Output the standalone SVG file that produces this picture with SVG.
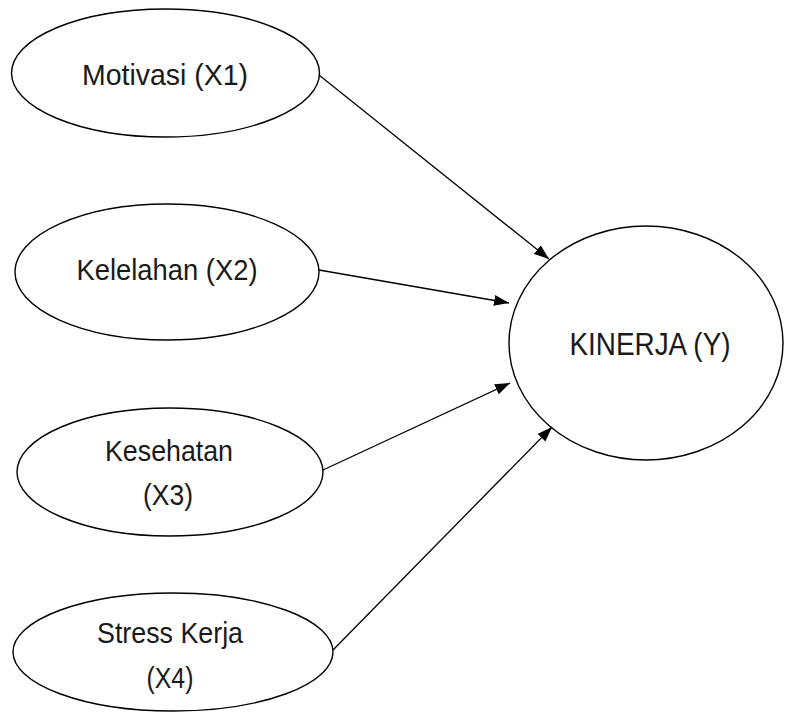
<svg xmlns="http://www.w3.org/2000/svg" width="785" height="713" viewBox="0 0 785 713">
<style>
.node{fill:#fff;stroke:#000;stroke-width:1.4}
.lbl{font-family:"Liberation Sans",Arial,sans-serif;font-size:29px;fill:#1a1a1a;text-anchor:middle}
.big{font-size:32px}
.edge{stroke:#000;stroke-width:1.3;fill:none}
</style>
<defs>
<marker id="arr" markerUnits="userSpaceOnUse" markerWidth="16" markerHeight="12" refX="15" refY="5.5" orient="auto">
<path d="M0,0 L15,5.5 L0,11 z" fill="#000"/>
</marker>
</defs>
<rect width="785" height="713" fill="#fff"/>
<g id="n-x1">
<ellipse class="node" cx="165.5" cy="73" rx="154" ry="64"/>
<text class="lbl" x="165" y="85" textLength="166" lengthAdjust="spacingAndGlyphs">Motivasi (X1)</text>
</g>
<g id="n-x2">
<ellipse class="node" cx="167" cy="272" rx="152" ry="68"/>
<text class="lbl" x="167" y="280" textLength="181" lengthAdjust="spacingAndGlyphs">Kelelahan (X2)</text>
</g>
<g id="n-x3">
<ellipse class="node" cx="170" cy="472" rx="153" ry="64"/>
<text class="lbl" x="169" y="461" textLength="128" lengthAdjust="spacingAndGlyphs">Kesehatan</text>
<text class="lbl" x="168" y="505" textLength="50" lengthAdjust="spacingAndGlyphs">(X3)</text>
</g>
<g id="n-x4">
<ellipse class="node" cx="173" cy="652" rx="160" ry="59"/>
<text class="lbl" x="170" y="643" textLength="146" lengthAdjust="spacingAndGlyphs">Stress Kerja</text>
<text class="lbl" x="170" y="688" textLength="47" lengthAdjust="spacingAndGlyphs">(X4)</text>
</g>
<g id="n-y">
<ellipse class="node" cx="646" cy="343" rx="137" ry="117"/>
<text class="lbl big" x="650" y="355" textLength="161" lengthAdjust="spacingAndGlyphs">KINERJA (Y)</text>
</g>
<g id="connectors">
<line class="edge" x1="319" y1="75" x2="549" y2="259" marker-end="url(#arr)"/>
<line class="edge" x1="319" y1="270" x2="509" y2="303" marker-end="url(#arr)"/>
<line class="edge" x1="323" y1="470" x2="510" y2="383" marker-end="url(#arr)"/>
<line class="edge" x1="333" y1="650" x2="552" y2="427" marker-end="url(#arr)"/>
</g>
</svg>
